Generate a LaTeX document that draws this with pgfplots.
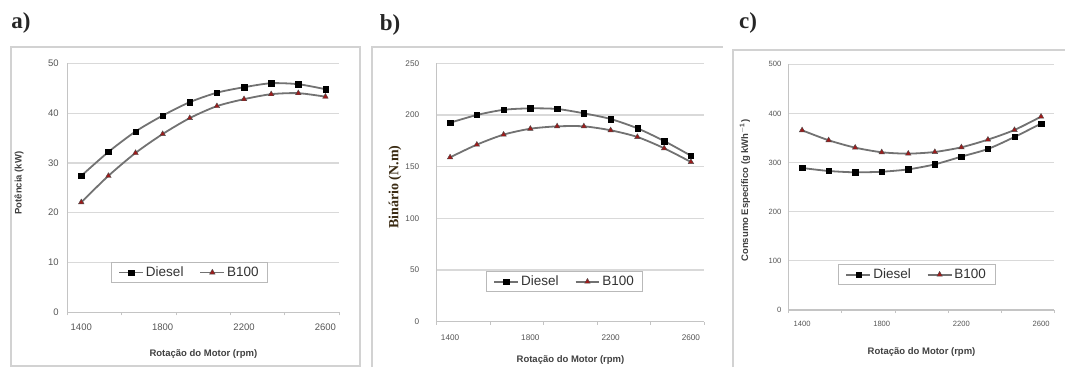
\documentclass[border=0pt]{standalone}
\usepackage{pgfplots}
\pgfplotsset{compat=1.18}
\usepackage{fontspec}
\setmainfont{Liberation Sans}
\newfontfamily\serifb{Liberation Serif}
\definecolor{gridc}{HTML}{D9D9D9}
\definecolor{axisc}{HTML}{C4C4C4}
\definecolor{framec}{HTML}{D2D2D2}
\definecolor{tickc}{HTML}{555555}
\definecolor{labc}{HTML}{404040}
\definecolor{linec}{HTML}{727272}
\definecolor{redm}{HTML}{9E1B1B}
\definecolor{binc}{HTML}{3A2A12}

\pgfplotstableread{
i  da   ba   db    bb    dc    bc
0  27.4 22.1 192.5 159.0 289.0 365.7
1  32.2 27.4 200.0 171.3 282.9 345.4
2  36.3 32.0 205.0 181.0 280.2 330.4
3  39.5 35.8 206.4 186.7 281.4 321.0
4  42.2 39.0 205.8 189.0 286.2 318.2
5  44.1 41.4 201.6 189.0 296.4 321.6
6  45.2 42.8 196.1 185.2 312.1 331.1
7  46.0 43.8 187.1 178.7 327.7 346.7
8  45.8 44.0 174.8 167.8 352.1 366.4
9  44.8 43.3 160.6 154.5 379.3 393.5
}\datatab

\pgfplotsset{
  panel/.style={
    scale only axis,
    anchor=south west,
    axis x line=bottom, axis y line=left,
    axis line style={-, draw=axisc, line width=1.2pt},
    xmin=-0.5, xmax=9.5, ymin=0,
    xtick={0,3,6,9}, xticklabels={1400,1800,2200,2600},
    minor xtick={-0.5,1.5,3.5,5.5,7.5,9.5},
    tick align=outside,
    major tick length=0pt, minor tick length=3pt,
    minor tick style={draw=axisc, line width=1pt},
    ymajorgrids, grid style={draw=gridc, line width=1.2pt},
    /pgf/number format/assume math mode=true,
    ticklabel style={text=tickc},
    xticklabel style={anchor=north},
    yticklabel style={anchor=east},
    label style={text=labc, font=\bfseries\fontsize{9.5}{10}\selectfont},
    legend columns=2,
    legend style={draw=gray!55, line width=0.8pt, fill=white,
      font=\fontsize{13.5}{14}\selectfont, text=black!80, anchor=center,
      inner xsep=7pt, inner ysep=2.5pt,
      /tikz/every even column/.append style={column sep=14pt}},
    legend image code/.code={\draw[mark repeat=2,mark phase=2] plot coordinates {(0cm,0cm) (0.42cm,0cm) (0.84cm,0cm)};},
  },
  dies/.style={linec, line width=1.8pt, smooth, tension=0.45, mark=square*,
    mark size=2.7pt, mark options={draw=black, fill=black, line width=0.4pt}},
  bio/.style={linec, line width=1.8pt, smooth, tension=0.45, mark=triangle*,
    mark size=3.2pt, mark options={draw=black!70, fill=redm, line width=0.4pt}},
}

\begin{document}
\begin{tikzpicture}
\path[use as bounding box] (0,0) rectangle (1065pt,367pt);
% chart area frames
\draw[framec, line width=1.3pt] (11pt,320pt) rectangle (360pt,1pt);
\draw[framec, line width=1.3pt] (372pt,0pt) -- (372pt,320pt) -- (723pt,320pt);
\draw[framec, line width=1.3pt] (733pt,0pt) -- (733pt,317pt) -- (1065pt,317pt);

% panel a
\begin{axis}[panel, at={(67.7pt,54.7pt)}, width=271.3pt, height=249pt,
  ymax=50, ytick={0,10,...,50},
  ticklabel style={font=\fontsize{9.5}{10}\selectfont},
  xticklabel style={yshift=-8.5pt}, yticklabel style={xshift=-5.5pt},
  xlabel={Rotação do Motor (rpm)}, ylabel={Potência (kW)},
  xlabel style={at={(axis description cs:0.5,-0.1675)}, anchor=center},
  ylabel style={at={(axis description cs:-0.1795,0.519)}, anchor=center},
  legend style={at={(axis description cs:0.449,0.160)}},
]
\addplot[dies] table[x=i, y=da] {\datatab};
\addplot[bio] table[x=i, y=ba] {\datatab};
\legend{Diesel, B100}
\end{axis}

% panel b
\begin{axis}[panel, at={(436.7pt,45.3pt)}, width=267.6pt, height=258.4pt,
  ymax=250, ytick={0,50,...,250},
  ticklabel style={font=\fontsize{8.2}{9}\selectfont},
  xticklabel style={yshift=-10pt}, yticklabel style={xshift=-14pt},
  xlabel={Rotação do Motor (rpm)},
  ylabel={\serifb\bfseries\fontsize{14}{15}\selectfont\color{binc}Binário (N.m)},
  xlabel style={at={(axis description cs:0.5,-0.148)}, anchor=center},
  ylabel style={at={(axis description cs:-0.156,0.521)}, anchor=center},
  legend style={at={(axis description cs:0.478,0.155)}},
]
\addplot[dies] table[x=i, y=db] {\datatab};
\addplot[bio] table[x=i, y=bb] {\datatab};
\legend{Diesel, B100}
\end{axis}

% panel c
\begin{axis}[panel, at={(788.8pt,57pt)}, width=265.5pt, height=245.7pt,
  ymax=500, ytick={0,100,...,500},
  ticklabel style={font=\fontsize{7.6}{8}\selectfont},
  xticklabel style={yshift=-8pt}, yticklabel style={xshift=-4pt},
  xlabel={Rotação do Motor (rpm)},
  ylabel={Consumo Específico (g kWh$^{\mathbf{-1}}$)},
  xlabel style={at={(axis description cs:0.5,-0.170)}, anchor=center},
  ylabel style={at={(axis description cs:-0.165,0.486)}, anchor=center},
  legend style={at={(axis description cs:0.482,0.144)}},
]
\addplot[dies] table[x=i, y=dc] {\datatab};
\addplot[bio] table[x=i, y=bc] {\datatab};
\legend{Diesel, B100}
\end{axis}

% panel letters
\node[font=\serifb\bfseries\fontsize{23}{24}\selectfont, text=black!85] at (21pt,344pt) {a)};
\node[font=\serifb\bfseries\fontsize{23}{24}\selectfont, text=black!85] at (390pt,342pt) {b)};
\node[font=\serifb\bfseries\fontsize{23}{24}\selectfont, text=black!85] at (748pt,344pt) {c)};
\end{tikzpicture}
\end{document}
